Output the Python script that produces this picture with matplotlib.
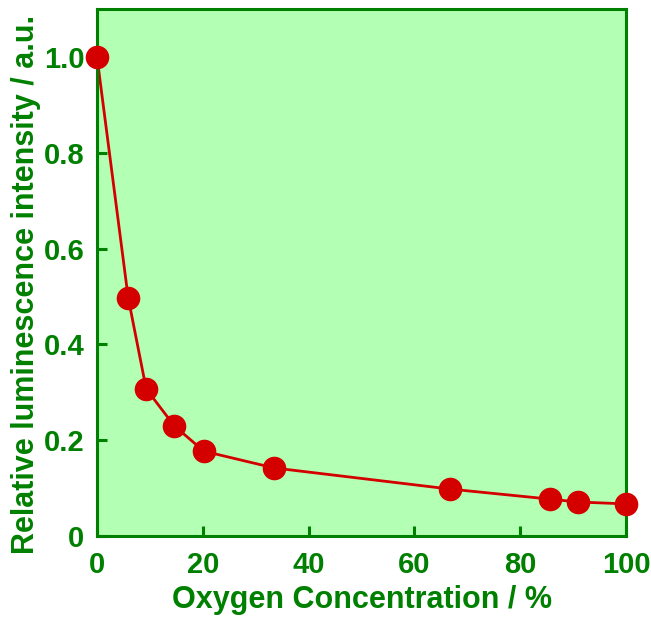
import numpy as np
import matplotlib
matplotlib.use('Agg')
import matplotlib.pyplot as plt

# values
oxygen = [0, 5.9, 9.3, 14.6, 20.2, 33.5, 66.7, 85.6, 90.9, 100]
intensity = [1.0, 0.497, 0.307, 0.230, 0.177, 0.142, 0.098, 0.077, 0.071, 0.067]
xticks = [0, 20, 40, 60, 80, 100]
yticks = [0, 0.2, 0.4, 0.6, 0.8, 1.0]

green = '#008000'
red = '#d40000'

plt.rcParams['font.family'] = ['Liberation Sans', 'DejaVu Sans']
plt.rcParams['font.weight'] = 'bold'

fig = plt.figure(figsize=(6.51, 6.25), dpi=100)
ax = fig.add_axes([0.149, 0.1424, 0.8126, 0.8432])
ax.set_facecolor('#b3ffb3')

ax.plot(oxygen, intensity, color=red, lw=2, zorder=2)
ax.plot(oxygen, intensity, 'o', color=red, ms=17, mec='none', zorder=3, clip_on=False)

ax.set_xlim(0, 100)
ax.set_ylim(0, 1.1)
ax.set_xticks(xticks)
ax.set_yticks(yticks)
ax.set_yticklabels(['0'] + ['%.1f' % v for v in yticks[1:]])

for s in ax.spines.values():
    s.set_color(green)
    s.set_linewidth(2.2)
ax.tick_params(direction='in', length=7, width=2.2, color=green, labelcolor=green,
               labelsize=21)
ax.tick_params(axis='x', pad=11)
ax.tick_params(axis='y', pad=9)

ax.set_xlabel('Oxygen Concentration / %', color=green, fontsize=22, fontweight='bold', labelpad=4)
ax.set_ylabel('Relative luminescence intensity / a.u.', color=green, fontsize=22,
              fontweight='bold', labelpad=4)
ax.yaxis.set_label_coords(-0.106, 0.477)

fig.savefig('out.png', dpi=100)
